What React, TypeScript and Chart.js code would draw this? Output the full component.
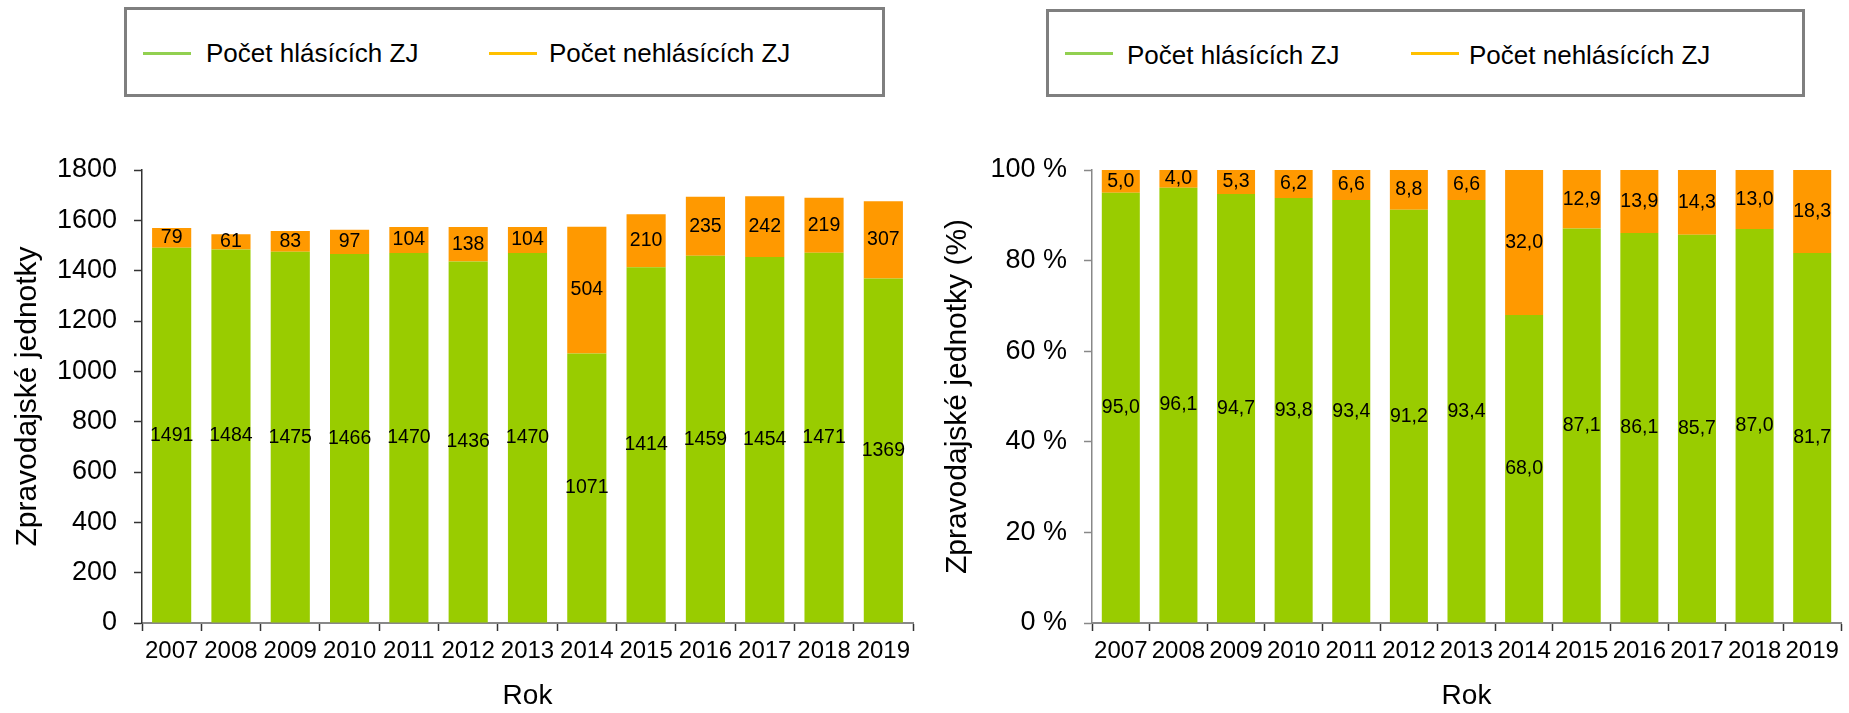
import React, { useEffect, useRef } from 'react';
import { Chart, registerables } from 'chart.js';

Chart.register(...registerables);

// ---- data ----
const years = ['2007', '2008', '2009', '2010', '2011', '2012', '2013', '2014', '2015', '2016', '2017', '2018', '2019'];
const reporting = [1491, 1484, 1475, 1466, 1470, 1436, 1470, 1071, 1414, 1459, 1454, 1471, 1369];
const nonReporting = [79, 61, 83, 97, 104, 138, 104, 504, 210, 235, 242, 219, 307];
const reportingPct = [95.0, 96.1, 94.7, 93.8, 93.4, 91.2, 93.4, 68.0, 87.1, 86.1, 85.7, 87.0, 81.7];
const nonReportingPct = [5.0, 4.0, 5.3, 6.2, 6.6, 8.8, 6.6, 32.0, 12.9, 13.9, 14.3, 13.0, 18.3];
const seriesNames = ['Počet hlásících ZJ', 'Počet nehlásících ZJ'];
const yTitleCount = 'Zpravodajské jednotky';
const yTitlePct = 'Zpravodajské jednotky (%)';
const xTitle = 'Rok';

const GREEN = '#99CC00';
const ORANGE = '#FF9900';
const LEGEND_GREEN = '#92D050';
const LEGEND_ORANGE = '#FFC000';
const FONT = '"Liberation Sans", Arial, Helvetica, sans-serif';

const valueLabels = {
  id: 'valueLabels',
  afterDatasetsDraw(chart: any, _args: any, opts: any) {
    const ctx = chart.ctx;
    const decimals = opts && opts.decimals ? opts.decimals : 0;
    ctx.save();
    ctx.font = `19.5px ${FONT}`;
    ctx.fillStyle = '#000';
    ctx.textAlign = 'center';
    ctx.textBaseline = 'middle';
    chart.data.datasets.forEach((ds: any, i: number) => {
      const meta = chart.getDatasetMeta(i);
      meta.data.forEach((el: any, j: number) => {
        const v = ds.data[j];
        const p = el.getProps(['x', 'y', 'base'], true);
        const txt = decimals ? v.toFixed(decimals).replace('.', ',') : String(v);
        ctx.fillText(txt, p.x, (p.y + p.base) / 2);
      });
    });
    ctx.restore();
  },
};

function makeConfig(
  a: number[],
  b: number[],
  opts: { yWidth: number; padRight: number; max: number; step: number; pct: boolean; yTitle: string; yColor: string }
): any {
  return {
    type: 'bar',
    data: {
      labels: years,
      datasets: [
        { label: seriesNames[0], data: a, backgroundColor: GREEN, borderWidth: 0, barPercentage: 0.66, categoryPercentage: 1 },
        { label: seriesNames[1], data: b, backgroundColor: ORANGE, borderWidth: 0, barPercentage: 0.66, categoryPercentage: 1 },
      ],
    },
    options: {
      responsive: false,
      animation: false,
      devicePixelRatio: 1,
      layout: { padding: { top: 70, right: opts.padRight, left: 0, bottom: 0 } },
      plugins: {
        legend: { display: false },
        tooltip: { enabled: false },
        valueLabels: { decimals: opts.pct ? 1 : 0 },
      },
      scales: {
        x: {
          stacked: true,
          grid: { display: true, drawOnChartArea: false, drawTicks: true, tickLength: 8, offset: true, tickColor: '#333', tickWidth: 1.5 },
          border: { display: true, color: '#888', width: 2 },
          ticks: { color: '#000', font: { size: 24, family: FONT }, padding: 6, maxRotation: 0, autoSkip: false },
          title: { display: true, text: xTitle, color: '#000', font: { size: 28, family: FONT }, padding: { top: 0, bottom: 0 } },
          afterFit: (s: any) => { s.height = 90; },
        },
        y: {
          stacked: true,
          min: 0,
          max: opts.max,
          grid: { display: true, drawOnChartArea: false, drawTicks: true, tickLength: 8, tickColor: opts.yColor, tickWidth: 1.5 },
          border: { display: true, color: opts.yColor, width: 1.5 },
          ticks: {
            stepSize: opts.step,
            color: '#000',
            font: { size: 27, family: FONT },
            padding: 17,
            callback: (v: any) => (opts.pct ? `${v} %` : `${v}`),
          },
          title: { display: true, text: opts.yTitle, color: '#000', font: { size: 30, family: FONT }, padding: { top: 10, bottom: 0 } },
          afterFit: (s: any) => { s.width = opts.yWidth; },
        },
      },
    },
    plugins: [valueLabels],
  };
}

function Legend({ left, top, width, height, g1, t1, g2, t2, textTop }: any) {
  const lineStyle = (x: number, c: string): React.CSSProperties => ({
    position: 'absolute', left: x, top: 52, width: 48, height: 3, background: c,
  });
  const textStyle = (x: number): React.CSSProperties => ({
    position: 'absolute', left: x, top: textTop, fontFamily: FONT, fontSize: 26, lineHeight: '26px', color: '#000', whiteSpace: 'nowrap',
  });
  return (
    <>
      <div style={{ position: 'absolute', left, top, width, height, border: '3px solid #7f7f7f', boxSizing: 'border-box', background: '#fff' }} />
      <div style={lineStyle(g1, LEGEND_GREEN)} />
      <div style={textStyle(t1)}>{seriesNames[0]}</div>
      <div style={lineStyle(g2, LEGEND_ORANGE)} />
      <div style={textStyle(t2)}>{seriesNames[1]}</div>
    </>
  );
}

export default function App() {
  const leftRef = useRef<HTMLCanvasElement>(null);
  const rightRef = useRef<HTMLCanvasElement>(null);

  useEffect(() => {
    const c1 = new Chart(leftRef.current as HTMLCanvasElement, makeConfig(reporting, nonReporting, {
      yWidth: 142, padRight: 17, max: 1800, step: 200, pct: false, yTitle: yTitleCount, yColor: '#333',
    }));
    const c2 = new Chart(rightRef.current as HTMLCanvasElement, makeConfig(reportingPct, nonReportingPct, {
      yWidth: 162, padRight: 8, max: 100, step: 20, pct: true, yTitle: yTitlePct, yColor: '#888',
    }));
    return () => { c1.destroy(); c2.destroy(); };
  }, []);

  return (
    <div style={{ position: 'absolute', left: 0, top: 0, width: 1849, height: 713, background: '#fff', overflow: 'hidden' }}>
      <Legend left={124} top={7} width={761} height={90} g1={143} t1={206} g2={489} t2={549} textTop={40} />
      <Legend left={1046} top={9} width={759} height={88} g1={1065} t1={1127} g2={1411} t2={1469} textTop={42} />
      <canvas ref={leftRef} width={930} height={613} style={{ position: 'absolute', left: 0, top: 100, width: 930, height: 613 }} />
      <canvas ref={rightRef} width={919} height={613} style={{ position: 'absolute', left: 930, top: 100, width: 919, height: 613 }} />
    </div>
  );
}
